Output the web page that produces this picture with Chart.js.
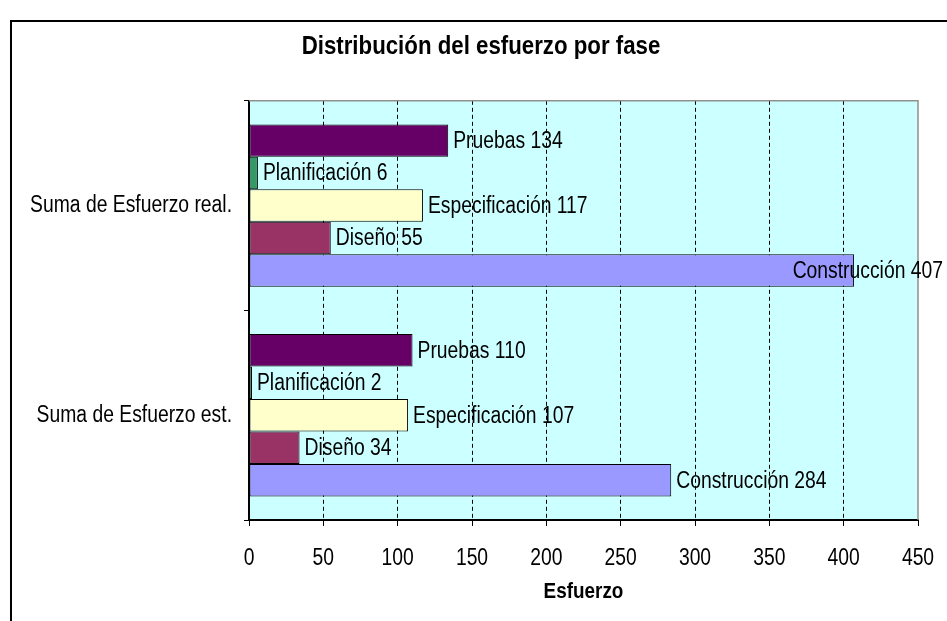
<!DOCTYPE html>
<html><head><meta charset="utf-8">
<script src="https://cdn.jsdelivr.net/npm/chart.js@4/dist/chart.umd.min.js"></script>
<style>html,body{margin:0;padding:0;background:#fff;overflow:hidden;}</style>
</head><body>
<canvas id="c" width="947" height="621"></canvas>
<script>
// ---- data ----
const categories = ['Suma de Esfuerzo real.', 'Suma de Esfuerzo est.'];
const phases = ['Pruebas', 'Planificación', 'Especificación', 'Diseño', 'Construcción'];
const pruebas = [134, 110];
const planificacion = [6, 2];
const especificacion = [117, 107];
const diseno = [55, 34];
const construccion = [407, 284];
const xMin = 0, xMax = 450, xStep = 50;
const chartTitle = 'Distribución del esfuerzo por fase';
const xTitle = 'Esfuerzo';

// ---- styles ----
const phaseColors = ['#660066', '#339966', '#FFFFCC', '#993366', '#9999FF'];
const FONT = "'Liberation Sans', Arial, sans-serif";
const TEXT_SX = 0.84; // horizontal condensing of text (reference uses a narrow face)

const seriesValues = [pruebas, planificacion, especificacion, diseno, construccion];

const canvas = document.getElementById('c');
const ctx2d = canvas.getContext('2d');
// draw text condensed horizontally around its anchor point (keeps alignment)
const origFillText = ctx2d.fillText.bind(ctx2d);
ctx2d.fillText = function (text, x, y, maxWidth) {
  this.save();
  this.translate(x, y);
  this.scale(TEXT_SX, 1);
  if (maxWidth === undefined) origFillText(text, 0, 0);
  else origFillText(text, 0, 0, maxWidth / TEXT_SX);
  this.restore();
};

const bgPlugin = {
  id: 'bg',
  afterLayout(chart) {
    // centre the chart title where the reference has it
    const tb = chart.titleBlock;
    if (tb) { const r = tb.right; tb.left = 2 * 481 - r; }
  },
  beforeDraw(chart) {
    const {ctx, chartArea: a} = chart;
    ctx.save();
    ctx.fillStyle = '#CCFFFF';
    ctx.fillRect(a.left, a.top, a.right - a.left, a.bottom - a.top);
    ctx.restore();
  },
  beforeDatasetsDraw(chart) {
    const {ctx, chartArea: a} = chart;
    ctx.save();
    ctx.strokeStyle = '#909090';
    ctx.lineWidth = 1.5;
    ctx.beginPath();
    ctx.moveTo(a.left, a.top);
    ctx.lineTo(a.right, a.top);
    ctx.lineTo(a.right, a.bottom);
    ctx.stroke();
    ctx.restore();
  },
  afterDraw(chart) {
    const {ctx} = chart;
    ctx.save();
    ctx.strokeStyle = '#000';
    ctx.lineWidth = 2;
    ctx.strokeRect(11, 21, chart.width + 20, chart.height + 20);
    ctx.restore();
  }
};

const labelPlugin = {
  id: 'barLabels',
  afterDatasetsDraw(chart) {
    const {ctx} = chart;
    ctx.save();
    ctx.font = "23px " + FONT;
    ctx.fillStyle = '#000';
    ctx.textBaseline = 'middle';
    ctx.textAlign = 'left';
    chart.data.datasets.forEach((ds, di) => {
      const meta = chart.getDatasetMeta(di);
      meta.data.forEach((el, i) => {
        const txt = ds.label + ' ' + ds.data[i];
        const w = ctx.measureText(txt).width * TEXT_SX;
        let x = el.x + 5;
        const maxRight = chart.width - 4;
        if (x + w > maxRight) x = maxRight - w;
        ctx.fillText(txt, x, el.y + 1);
      });
    });
    ctx.restore();
  }
};

new Chart(canvas, {
  type: 'bar',
  data: {
    labels: categories,
    datasets: phases.map((p, i) => ({
      label: p,
      data: seriesValues[i],
      backgroundColor: phaseColors[i],
      borderColor: '#000',
      borderWidth: 1,
      borderSkipped: false,
      categoryPercentage: 0.775,
      barPercentage: 1.0
    }))
  },
  options: {
    indexAxis: 'y',
    responsive: false,
    devicePixelRatio: 1,
    animation: false,
    layout: {padding: {left: 0, right: 29, top: 0, bottom: 0}},
    plugins: {
      legend: {display: false},
      tooltip: {enabled: false},
      title: {
        display: true,
        text: chartTitle,
        color: '#000',
        font: {family: FONT, size: 26.5, weight: 'bold'},
        padding: {top: 31, bottom: 38}
      }
    },
    scales: {
      x: {
        type: 'linear',
        position: 'bottom',
        min: xMin, max: xMax,
        ticks: {stepSize: xStep, color: '#000', font: {family: FONT, size: 23}, padding: 19},
        grid: {
          color: (c) => (c.tick && (c.tick.value === xMin || c.tick.value === xMax)) ? 'rgba(0,0,0,0)' : '#000',
          tickColor: '#000',
          tickLength: 6,
          tickBorderDash: [],
          lineWidth: 1
        },
        border: {display: true, color: '#000', width: 2, dash: [4, 3]},
        title: {
          display: true, text: xTitle, color: '#000',
          font: {family: FONT, size: 22.5, weight: 'bold'},
          padding: {top: 0, bottom: 15.5}
        },
        afterFit(scale) { scale.height = 101; scale.paddingRight = 0; scale.paddingLeft = 0; }
      },
      y: {
        type: 'category',
        ticks: {color: '#000', font: {family: FONT, size: 23}, padding: 12},
        grid: {display: true, drawOnChartArea: false, drawTicks: true, tickLength: 5, color: '#000', offset: true},
        border: {display: true, color: '#000', width: 2},
        afterFit(scale) { scale.width = 249; }
      }
    }
  },
  plugins: [bgPlugin, labelPlugin]
});
</script>
</body></html>
